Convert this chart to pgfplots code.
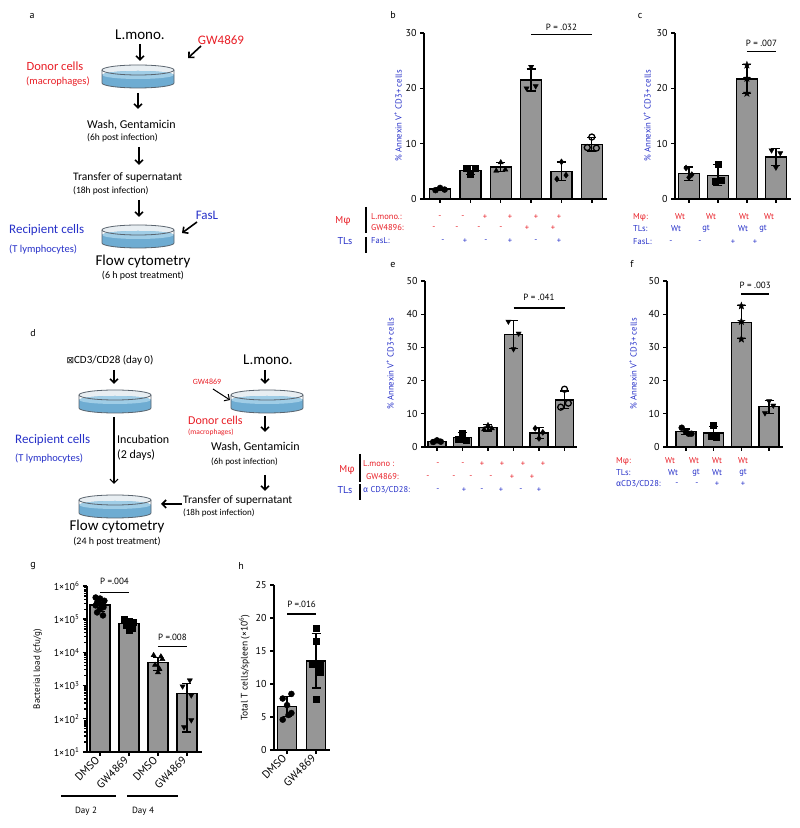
\documentclass[border=0pt]{standalone}
\usepackage{fontspec}
\setmainfont{PT Sans}
\newfontfamily\schem{Carlito}
\newfontfamily\gr{Fira Sans}
\newfontfamily\sym{DejaVu Sans}
\usepackage{pgfplots}
\pgfplotsset{compat=1.18}
\usetikzlibrary{arrows.meta}

\definecolor{myred}{RGB}{232,30,38}
\definecolor{myblue}{RGB}{38,48,200}
\definecolor{bargray}{RGB}{150,150,150}
\definecolor{dishtop}{RGB}{232,238,242}
\definecolor{dishliq}{RGB}{110,172,210}
\definecolor{dishsurf}{RGB}{160,205,230}
\definecolor{dishline}{RGB}{90,100,110}

\newcommand\pf{\fontsize{8.5}{10}\selectfont}
\newcommand\sz[1]{\fontsize{#1}{#1}\selectfont}

% filled star mark
\pgfdeclareplotmark{fstar}{%
\pgfpathmoveto{\pgfpointpolar{90}{1.25*\pgfplotmarksize}}%
\pgfpathlineto{\pgfpointpolar{126}{0.5*\pgfplotmarksize}}%
\pgfpathlineto{\pgfpointpolar{162}{1.25*\pgfplotmarksize}}%
\pgfpathlineto{\pgfpointpolar{198}{0.5*\pgfplotmarksize}}%
\pgfpathlineto{\pgfpointpolar{234}{1.25*\pgfplotmarksize}}%
\pgfpathlineto{\pgfpointpolar{270}{0.5*\pgfplotmarksize}}%
\pgfpathlineto{\pgfpointpolar{306}{1.25*\pgfplotmarksize}}%
\pgfpathlineto{\pgfpointpolar{342}{0.5*\pgfplotmarksize}}%
\pgfpathlineto{\pgfpointpolar{18}{1.25*\pgfplotmarksize}}%
\pgfpathlineto{\pgfpointpolar{54}{0.5*\pgfplotmarksize}}%
\pgfpathclose\pgfusepathqfillstroke}

\pgfplotsset{
  gp/.style={
    scale only axis, anchor=south west,
    axis x line*=bottom, axis y line*=left,
    axis line style={line width=1.6pt,-},
    tick align=outside, major tick length=4pt,
    tick style={black, line width=1.4pt},
    ymin=0, clip=false, minor tick num=0,
    tick label style={font=\sz{10}, black},
    xticklabel style={font=\sz{11}},
    /pgf/number format/assume math mode=true,
    ylabel style={font=\fontsize{8.7}{10}\selectfont, color=myblue, at={(axis description cs:#1,0.5)}, anchor=center},
    xticklabels={},
  },
  gbar/.style={ybar, bar width=#1, bar shift=0pt, fill=bargray, draw=black, line width=1.3pt},
  pts/.style={only marks, black, mark size=3pt, mark options={solid}},
  errs/.style={draw=none, forget plot, error bars/.cd, y dir=both, y explicit,
    error bar style={draw=black, line width=1.3pt, solid},
    error mark options={draw=black, rotate=90, mark size=4.5pt, line width=1.3pt}},
}

\newcommand\dish[2]{%
\begin{scope}[shift={(#1,#2)}]
\fill[dishtop] (0,0) ellipse [x radius=36, y radius=5];
\fill[dishliq] (-36,-5) -- (-36,-13) arc[start angle=180, end angle=360, x radius=36, y radius=5] -- (36,-5) arc[start angle=0, end angle=180, x radius=36, y radius=4] -- cycle;
\fill[dishsurf] (0,-5) ellipse [x radius=35.5, y radius=4];
\draw[dishline, line width=0.8pt] (0,0) ellipse [x radius=36, y radius=5];
\draw[dishline, line width=0.8pt] (-36,0) -- (-36,-13) arc[start angle=180, end angle=360, x radius=36, y radius=5] -- (36,0);
\end{scope}}

\begin{document}
\begin{tikzpicture}[x=1pt,y=1pt,font=\pf,
  arr/.style={-{Straight Barb[length=4pt,width=8pt]}, line width=1.6pt},
  pv/.style={font=\sz{9}}]
\path (0,0) rectangle (800,828);

% ---------- b ----------
\begin{axis}[gp=-0.142, at={(424pt,629pt)}, width=183pt, height=166pt,
  xmin=-0.53, xmax=5.5, ymax=30, ytick={0,10,20,30}, xtick={0,...,5},
  ylabel={\% Annexin V\textsuperscript{+} CD3+ cells}]
\addplot[gbar=21pt] coordinates {(0,1.8) (1,5.2) (2,5.8) (3,21.5) (4,5.0) (5,9.9)};
\addplot[pts, mark=*] coordinates {(-0.15,1.6) (0,2.0) (0.15,1.7)};
\addplot[pts, mark=square*] coordinates {(0.85,5.6) (1,4.4) (1.15,5.5)};
\addplot[pts, mark=triangle*] coordinates {(1.85,5.1) (2,6.6) (2.15,5.3)};
\addplot[pts, mark=triangle*, mark options={rotate=180}] coordinates {(2.85,20.0) (3,23.9) (3.15,20.4)};
\addplot[pts, mark=diamond*] coordinates {(3.85,3.6) (4,6.7) (4.15,4.3)};
\addplot[pts, mark=o, mark options={line width=1.3pt}] coordinates {(4.85,9.3) (5,11.2) (5.15,9.2)};
\addplot[errs] coordinates {(0,1.8) +- (0,0.3) (1,5.2) +- (0,0.8) (2,5.8) +- (0,0.8) (3,21.5) +- (0,2.0) (4,5.0) +- (0,1.7) (5,9.9) +- (0,1.2)};
\draw[line width=1.3pt] (axis cs:3,29.7) -- (axis cs:5,29.7);
\node[pv] at (axis cs:4,31) {P = .032};
\end{axis}

% ---------- c ----------
\begin{axis}[gp=-0.241, at={(675pt,629pt)}, width=116pt, height=166pt,
  xmin=-0.48, xmax=3.52, ymax=30, ytick={0,10,20,30}, xtick={0,...,3},
  ylabel={\% Annexin V\textsuperscript{+} CD3+ cells}]
\addplot[gbar=21pt] coordinates {(0,4.6) (1,4.3) (2,21.7) (3,7.6)};
\addplot[pts, mark=diamond*] coordinates {(-0.1,5.6) (0,3.9) (0.1,4.4)};
\addplot[pts, mark=square*] coordinates {(0.9,3.3) (1,6.3) (1.1,3.4)};
\addplot[pts, mark=fstar] coordinates {(2,24.2) (2,21.8) (2,19.1)};
\addplot[pts, mark=triangle*, mark options={rotate=180}] coordinates {(2.85,8.8) (3.15,8.3) (3,5.7)};
\addplot[errs] coordinates {(0,4.6) +- (0,1.2) (1,4.3) +- (0,1.9) (2,21.7) +- (0,2.6) (3,7.6) +- (0,1.5)};
\draw[line width=1.3pt] (axis cs:2,26.6) -- (axis cs:3,26.6);
\node[pv] at (axis cs:2.5,28.2) {P = .007};
\end{axis}

% ---------- e ----------
\begin{axis}[gp=-0.230, at={(425pt,381pt)}, width=152pt, height=166pt,
  xmin=-0.47, xmax=5.49, ymax=50, ytick={0,10,...,50}, xtick={0,...,5},
  ylabel={\% Annexin V\textsuperscript{+} CD3+ cells}]
\addplot[gbar=18pt] coordinates {(0,1.7) (1,2.8) (2,5.8) (3,33.8) (4,4.2) (5,14.2)};
\addplot[pts, mark=*] coordinates {(-0.15,1.5) (0,2.0) (0.15,1.6)};
\addplot[pts, mark=square*] coordinates {(0.85,2.2) (1,4.2) (1.15,2.0)};
\addplot[pts, mark=triangle*] coordinates {(1.85,5.3) (2,6.5) (2.15,5.6)};
\addplot[pts, mark=triangle*, mark options={rotate=180}] coordinates {(2.8,37.8) (3,29.5) (3.2,34.2)};
\addplot[pts, mark=diamond*] coordinates {(3.85,5.6) (4,2.6) (4.15,4.4)};
\addplot[pts, mark=o, mark options={line width=1.3pt}] coordinates {(4.85,12.0) (5,17.4) (5.15,13.2)};
\addplot[errs] coordinates {(0,1.7) +- (0,0.4) (1,2.8) +- (0,1.5) (2,5.8) +- (0,1.0) (3,33.8) +- (0,4.2) (4,4.2) +- (0,1.6) (5,14.2) +- (0,2.7)};
\draw[line width=1.3pt] (axis cs:3,41.9) -- (axis cs:5,41.9);
\node[pv] at (axis cs:4,45.2) {P = .041};
\end{axis}

% ---------- f ----------
\begin{axis}[gp=-0.293, at={(667pt,381pt)}, width=116pt, height=166pt,
  xmin=-0.68, xmax=3.5, ymax=50, ytick={0,10,...,50}, xtick={0,...,3},
  ylabel={\% Annexin V\textsuperscript{+} CD3+ cells}]
\addplot[gbar=20pt] coordinates {(0,4.6) (1,4.2) (2,37.6) (3,12.1)};
\addplot[pts, mark=*] coordinates {(-0.15,5.8) (0,4.6) (0.1,4.0) (0.2,4.0)};
\addplot[pts, mark=square*] coordinates {(1,6.5) (0.9,3.2) (1.1,3.0)};
\addplot[pts, mark=fstar] coordinates {(2,42.5) (2,37.8) (2,32.5)};
\addplot[pts, mark=triangle*, mark options={rotate=180}] coordinates {(2.85,10.2) (3,13.8) (3.15,12.5)};
\addplot[errs] coordinates {(0,4.6) +- (0,0.8) (1,4.2) +- (0,2.0) (2,37.6) +- (0,5.0) (3,12.1) +- (0,2.0)};
\draw[line width=1.3pt] (axis cs:2,46.1) -- (axis cs:3,46.1);
\node[pv] at (axis cs:2.5,48.6) {P = .003};
\end{axis}

% ---------- g ----------
\begin{axis}[gp=-0.43, at={(87pt,76pt)}, width=115pt, height=166pt,
  ymode=log, ymin=10, ymax=1e6, log origin=infty,
  xmin=-0.45, xmax=3.52, xtick={0,...,3},
  ytick={1e1,1e2,1e3,1e4,1e5,1e6},
  yticklabels={1×10\textsuperscript{1},1×10\textsuperscript{2},1×10\textsuperscript{3},1×10\textsuperscript{4},1×10\textsuperscript{5},1×10\textsuperscript{6}},
  xticklabels={DMSO,GW4869,DMSO,GW4869},
  xticklabel style={rotate=45, anchor=east},
  ylabel={Bacterial load (cfu/g)}, ylabel style={color=black, font=\sz{9}}]
\addplot[gbar=20pt] coordinates {(0,2.7e5) (1,7.4e4) (2,5.0e3) (3,590)};
\addplot[pts, mark=*] coordinates {(-0.15,4.5e5) (0,4.2e5) (0.15,3.6e5) (-0.1,3.2e5) (0.1,2.9e5) (-0.15,2.6e5) (0.12,2.3e5) (0,2.0e5) (-0.1,1.6e5) (0.1,1.3e5)};
\addplot[pts, mark=square*] coordinates {(0.85,1.0e5) (1,9.0e4) (1.15,8.0e4) (0.9,6.5e4) (1.1,5.5e4) (1,4.8e4)};
\addplot[pts, mark=triangle*] coordinates {(1.85,8.2e3) (2.1,7.5e3) (2.15,6.3e3) (1.9,4.2e3) (2.05,3.2e3) (2,2.5e3)};
\addplot[pts, mark=triangle*, mark options={rotate=180}] coordinates {(3.1,1450) (2.85,950) (3.15,510) (3.15,91) (2.9,56)};
\addplot[errs] coordinates {(0,2.7e5) +- (0,1.0e5) (1,7.4e4) +- (0,1.9e4) (2,5.0e3) +- (0,2.1e3) (3,590) +- (0,550)};
\draw[line width=1.3pt] (axis cs:0,6.3e5) -- (axis cs:1,6.3e5);
\node[pv] at (axis cs:0.5,1.35e6) {P =.004};
\draw[line width=1.3pt] (axis cs:2,1.5e4) -- (axis cs:3,1.5e4);
\node[pv] at (axis cs:2.5,2.8e4) {P =.008};
\end{axis}

% ---------- h ----------
\begin{axis}[gp=-0.53, at={(274pt,78pt)}, width=56pt, height=165pt,
  xmin=-0.45, xmax=1.48, ymax=25, ytick={0,5,...,25}, xtick={0,1},
  xticklabels={DMSO,GW4869}, xticklabel style={rotate=45, anchor=east},
  ylabel={Total T cells/spleen (×10\textsuperscript{6})}, ylabel style={color=black, font=\sz{9.5}}]
\addplot[gbar=19pt] coordinates {(0,6.6) (1,13.5)};
\addplot[pts, mark=*] coordinates {(-0.15,4.6) (0.15,5.6) (0,6.8) (-0.15,7.8) (0.15,8.5) (0.05,5.3)};
\addplot[pts, mark=square*] coordinates {(1,18.5) (1,16.5) (0.85,13.0) (1.15,12.8) (1.15,11.8) (1,7.7)};
\addplot[errs] coordinates {(0,6.6) +- (0,1.5) (1,13.5) +- (0,4.1)};
\draw[line width=1.3pt] (axis cs:0,20.6) -- (axis cs:1,20.6);
\node[pv] at (axis cs:0.5,22.1) {P =.016};
\end{axis}

\begin{scope}[every node/.style={inner sep=0pt}]
% panel letters
\node[font=\sz{10}] at (32,812) {a};
\node[font=\sz{10}] at (393,813) {b};
\node[font=\sz{10}] at (640,812) {c};
\node[font=\sz{10}] at (33,495) {d};
\node[font=\sz{10}] at (393,563) {e};
\node[font=\sz{10}] at (632,564) {f};
\node[font=\sz{10}] at (33,262) {g};
\node[font=\sz{10}] at (241,262) {h};

% table b
\node[myred, font=\sz{10}] at (343,607) {M{\gr φ}};
\node[myblue, font=\sz{10}] at (345,587) {TLs};
\draw[line width=1.3pt] (366,621) -- (366,595);
\draw[line width=1.3pt] (366,591) -- (366,575);
\node[myred, anchor=west] at (371,611) {L.mono.:};
\node[myred, anchor=west] at (371,600) {GW4896:};
\node[myblue, anchor=west] at (371,587) {FasL:};
\foreach \x/\s in {440/-,463/-,485/+,510/+,536/+,559/+} \node[myred] at (\x,611) {\s};
\foreach \x/\s in {434/-,457/-,479/-,501/-,527/+,553/+} \node[myred] at (\x,600) {\s};
\foreach \x/\s in {443/-,465/+,486/-,510/+,536/-,559/+} \node[myblue] at (\x,587) {\s};

% table c
\node[myred, anchor=west] at (633,611) {M{\gr φ}:};
\foreach \x in {680,711,744,769} \node[myred] at (\x,611) {Wt};
\node[myblue, anchor=west] at (633,599) {TLs:};
\foreach \x/\s in {676/Wt,706/gt,743/Wt,763/gt} \node[myblue] at (\x,599) {\s};
\node[myblue, anchor=west] at (633,586) {FasL:};
\foreach \x/\s in {671/-,700/-,733/+,755/+} \node[myblue] at (\x,586) {\s};

% table e
\node[myred, font=\sz{10}] at (347,358) {M{\gr φ}};
\node[myblue, font=\sz{10}] at (345,338) {TLs};
\draw[line width=1.3pt] (360,374) -- (360,346);
\draw[line width=1.3pt] (360,344) -- (360,328);
\node[myred, anchor=west] at (363,364) {L.mono :};
\node[myred, anchor=west] at (366,351) {GW4869:};
\node[myblue, anchor=west] at (363,338) {{\gr α} CD3/CD28:};
\foreach \x/\s in {438/-,463/-,482/+,502/+,523/+,543/+} \node[myred] at (\x,364) {\s};
\foreach \x/\s in {428/-,454/-,471/-,491/-,512/+,532/+} \node[myred] at (\x,351) {\s};
\foreach \x/\s in {438/-,464/+,482/-,501/+,521/-,539/+} \node[myblue] at (\x,338) {\s};

% table f
\node[myred, anchor=west] at (616,367) {M{\gr φ}:};
\foreach \x in {670,694,717,743} \node[myred] at (\x,367) {Wt};
\node[myblue, anchor=west] at (616,355) {TLs:};
\foreach \x/\s in {673/Wt,696/gt,717/Wt,743/gt} \node[myblue] at (\x,355) {\s};
\node[myblue, anchor=west] at (616,344) {{\gr α}CD3/CD28:};
\foreach \x/\s in {677/-,697/-,717/+,743/+} \node[myblue] at (\x,344) {\s};

% g day groups
\draw[line width=1.4pt] (61,32) -- (116,32);
\draw[line width=1.4pt] (127,32) -- (178,32);
\node[font=\sz{9}] at (86,17) {Day 2};
\node[font=\sz{9}] at (143,17) {Day 4};

% ---------- schematic a ----------
\node[font=\schem\sz{15}] at (140,793) {L.mono.};
\draw[arr] (140,784) -- (140,767);
\node[font=\schem\sz{13}, myred] at (221,788) {GW4869};
\draw[arr] (201,782) -- (188,770);
\dish{138}{758}
\node[font=\schem\sz{12.5}, myred] at (55,762) {Donor cells};
\node[font=\schem\sz{10.5}, myred] at (58,746) {(macrophages)};
\draw[arr] (138,735) -- (138,719);
\node[font=\schem\sz{12}, anchor=west] at (87,703) {Wash, Gentamicin};
\node[font=\schem\sz{9.5}, anchor=west] at (87,690) {(6h post infection)};
\draw[arr] (139,681) -- (139,663);
\node[font=\schem\sz{11.5}, anchor=west] at (73,651) {Transfer of supernatant};
\node[font=\schem\sz{9.5}, anchor=west] at (73,637) {(18h post infection)};
\draw[arr] (139,628) -- (139,611);
\dish{138}{598}
\node[font=\schem\sz{13}, myblue, anchor=west] at (9,598) {Recipient cells};
\node[font=\schem\sz{10.5}, myblue, anchor=west] at (9,578) {(T lymphocytes)};
\node[font=\schem\sz{13}, myblue] at (207,613) {FasL};
\draw[arr] (197,606) -- (182,595);
\node[font=\schem\sz{15}] at (143,566) {Flow cytometry};
\node[font=\schem\sz{10}] at (143,552) {(6 h post treatment)};

% ---------- schematic d ----------
\node[font=\schem\sz{11}] at (110,468) {{\sym\sz{9}⊠}CD3/CD28 (day 0)};
\draw[arr] (114,458) -- (114,444);
\dish{115}{433}
\node[font=\schem\sz{13}, myblue, anchor=west] at (15,388) {Recipient cells};
\node[font=\schem\sz{10.5}, myblue, anchor=west] at (15,369) {(T lymphocytes)};
\draw[arr, line width=1.2pt] (114,411) -- (114,344);
\node[font=\schem\sz{12}, anchor=west] at (117,389) {Incubation};
\node[font=\schem\sz{12}, anchor=west] at (117,373) {(2 days)};
\node[font=\schem\sz{15}] at (268,468) {L.mono.};
\draw[arr] (265,458) -- (265,444);
\node[font=\schem\sz{8}, myred] at (207,446) {GW4869};
\draw[arr, line width=1pt] (213,439) -- (230,428);
\dish{267}{433}
\node[font=\schem\sz{12}, myred, anchor=west] at (188,408) {Donor cells};
\node[font=\schem\sz{7.5}, myred, anchor=west] at (188,396) {(macrophages)};
\draw[arr] (265,412) -- (265,396);
\node[font=\schem\sz{12}, anchor=west] at (211,381) {Wash, Gentamicin};
\node[font=\schem\sz{9}, anchor=west] at (211,366) {(6h post infection)};
\draw[arr] (265,353) -- (265,337);
\node[font=\schem\sz{11.5}, anchor=west] at (183,328) {Transfer of supernatant};
\node[font=\schem\sz{9}, anchor=west] at (183,315) {(18h post infection)};
\draw[arr] (182,324) -- (161,324);
\dish{115}{328}
\node[font=\schem\sz{15}] at (117,301) {Flow cytometry};
\node[font=\schem\sz{10}] at (117,286) {(24 h post treatment)};
\end{scope}
\end{tikzpicture}
\end{document}
